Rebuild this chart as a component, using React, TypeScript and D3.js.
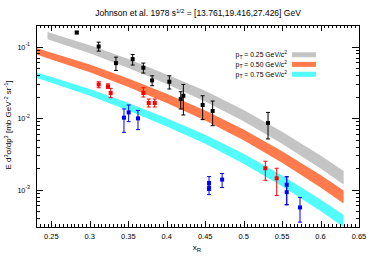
import React from "react";
import * as d3 from "d3";

// ---- data ----
const xTickLabels = ["0.25", "0.3", "0.35", "0.4", "0.45", "0.5", "0.55", "0.6", "0.65"];
const yDecades = [-1, -2, -3];

// bands (theory curves)
const grayX = [0.245, 0.30, 0.35, 0.40, 0.45, 0.50, 0.55, 0.60, 0.63];
const grayHi = [0.160, 0.1046, 0.0667, 0.0408, 0.0240, 0.01297, 0.00644, 0.00299, 0.00182];
const grayLo = [0.1267, 0.0805, 0.0500, 0.0299, 0.0171, 0.0090, 0.00436, 0.00197, 0.00118];

const orangeX = [0.23, 0.245, 0.30, 0.35, 0.40, 0.45, 0.50, 0.55, 0.60, 0.63];
const orangeHi = [0.0959, 0.0855, 0.0559, 0.0357, 0.0218, 0.0128, 0.00693, 0.00344, 0.00160, 0.000971];
const orangeLo = [0.0778, 0.0688, 0.0438, 0.0272, 0.0162, 0.00927, 0.00489, 0.00237, 0.00107, 0.00064];

const cyanX = [0.23, 0.245, 0.30, 0.35, 0.40, 0.45, 0.50, 0.55, 0.60, 0.63];
const cyanHi = [0.0437, 0.0389, 0.0255, 0.01625, 0.00994, 0.00583, 0.00316, 0.001568, 0.000728, 0.000443];
const cyanLo = [0.0366, 0.0324, 0.02056, 0.01279, 0.00762, 0.00436, 0.0023, 0.001112, 0.000503, 0.000301];

// data points: [x, y, yLow, yHigh]
const blackPts: number[][] = [
  [0.283, 0.157, 0.151, 0.163],
  [0.3115, 0.100, 0.0863, 0.1151],
  [0.334, 0.0586, 0.0463, 0.0711],
  [0.3557, 0.0667, 0.0551, 0.0773],
  [0.3696, 0.0505, 0.0426, 0.0587],
  [0.381, 0.0336, 0.0283, 0.039],
  [0.4034, 0.0322, 0.0255, 0.039],
  [0.4182, 0.01846, 0.0134, 0.0233],
  [0.4216, 0.0205, 0.01104, 0.0295],
  [0.4467, 0.01524, 0.00951, 0.0205],
  [0.4597, 0.01256, 0.00783, 0.0173],
  [0.5317, 0.00855, 0.00511, 0.0120],
];
const redPts: number[][] = [
  [0.3115, 0.0295, 0.02655, 0.0322],
  [0.3236, 0.0277, 0.0260, 0.0301],
  [0.3271, 0.0224, 0.01925, 0.0260],
  [0.3696, 0.0224, 0.0197, 0.02655],
  [0.3766, 0.01625, 0.01429, 0.01847],
  [0.3844, 0.01625, 0.01429, 0.01847],
  [0.5282, 0.00199, 0.00135, 0.00249],
  [0.5430, 0.00144, 0.000827, 0.00199],
];
const bluePts: number[][] = [
  [0.3444, 0.01013, 0.00632, 0.0134],
  [0.3505, 0.0120, 0.00891, 0.01523],
  [0.3626, 0.0099, 0.00689, 0.0128],
  [0.455, 0.00122, 0.00097, 0.00152],
  [0.455, 0.00105, 0.00085, 0.0013],
  [0.472, 0.00138, 0.00107, 0.001677],
  [0.556, 0.001167, 0.000614, 0.00151],
  [0.556, 0.00092, 0.000614, 0.00151],
  [0.5733, 0.000563, 0.000351, 0.000776],
];

const legendLabels = ["0.25", "0.50", "0.75"];

// ---- styles ----
const FONT = "'Liberation Sans', Arial, Helvetica, sans-serif";
const W = 374, H = 262;
const L = 36, R = 359, T = 25, B = 227;
const GRAY = "#c4c4c4", ORANGE = "#ff7a4c", CYAN = "#52fcfc";

export default function App() {
  const x = d3.scaleLinear().domain([0.23, 0.65]).range([L, R]);
  const y = d3.scaleLog().domain([3e-4, 0.2]).range([B, T]);

  const band = (xs: number[], lo: number[], hi: number[]) =>
    d3.area<number>()
      .x((_, i) => x(xs[i]))
      .y0((_, i) => y(lo[i]))
      .y1((_, i) => y(hi[i]))(xs) || "";

  const xTicks: { v: number; major: boolean }[] = [];
  for (let i = 46; i <= 130; i++) xTicks.push({ v: i * 0.005, major: i % 10 === 0 });
  const yTicks: { v: number; major: boolean }[] = [];
  for (let d = -4; d <= -1; d++) {
    for (let k = 1; k <= 9; k++) {
      const v = k * Math.pow(10, d);
      if (v >= 3e-4 && v <= 0.2) yTicks.push({ v, major: k === 1 });
    }
  }

  const points = (pts: number[][], color: string) =>
    pts.map((p, i) => {
      const cx = x(p[0]);
      const cy = y(p[1]);
      const y0 = y(p[2]);
      const y1 = y(p[3]);
      return (
        <g key={i} stroke={color} strokeWidth={1}>
          <line x1={cx} x2={cx} y1={y0} y2={y1} />
          <line x1={cx - 2} x2={cx + 2} y1={y0} y2={y0} />
          <line x1={cx - 2} x2={cx + 2} y1={y1} y2={y1} />
          <rect x={cx - 2} y={cy - 2} width={4} height={4} fill={color} stroke="none" />
        </g>
      );
    });

  const legendColors = [GRAY, ORANGE, CYAN];
  const legendY = [54.7, 64.4, 74.3];

  return (
    <svg width={W} height={H} style={{ position: "absolute", left: 0, top: 0, background: "#fff" }}
      fontFamily={FONT}>
      <rect x={0} y={0} width={W} height={H} fill="#fff" />
      <defs>
        <clipPath id="plot">
          <rect x={L} y={T} width={R - L} height={B - T} />
        </clipPath>
      </defs>
      <g clipPath="url(#plot)">
        <path d={band(grayX, grayLo, grayHi)} fill={GRAY} />
        <path d={band(orangeX, orangeLo, orangeHi)} fill={ORANGE} />
        <path d={band(cyanX, cyanLo, cyanHi)} fill={CYAN} />
        {points(blackPts, "#000")}
        {points(redPts, "#ff0000")}
        {points(bluePts, "#0000ff")}
      </g>

      {/* frame */}
      <rect x={L} y={T} width={R - L} height={B - T} fill="none" stroke="#000" strokeWidth={1} shapeRendering="crispEdges" />

      {/* x ticks */}
      <g stroke="#000" strokeWidth={1} shapeRendering="crispEdges">
        {xTicks.map((t, i) => {
          const px = Math.round(x(t.v)) + 0.5;
          const len = t.major ? 6 : 3;
          return (
            <g key={i}>
              <line x1={px} x2={px} y1={B} y2={B - len} />
              <line x1={px} x2={px} y1={T} y2={T + len} />
            </g>
          );
        })}
        {yTicks.map((t, i) => {
          const py = Math.round(y(t.v)) + 0.5;
          const len = t.major ? 7 : 3.5;
          return (
            <g key={i}>
              <line x1={L} x2={L + len} y1={py} y2={py} />
              <line x1={R} x2={R - len} y1={py} y2={py} />
            </g>
          );
        })}
      </g>

      {/* x tick labels */}
      {xTickLabels.map((s) => (
        <text key={s} x={x(+s)} y={239} fontSize={7.5} textAnchor="middle" fill="#000">{s}</text>
      ))}
      {/* y tick labels */}
      {yDecades.map((d) => (
        <text key={d} x={30} y={y(Math.pow(10, d)) + 3} fontSize={7.2} textAnchor="end" fill="#000">
          10<tspan fontSize={5.2} dy={-3.5}>{String(d)}</tspan>
        </text>
      ))}

      {/* title */}
      <text x={198} y={16} fontSize={8.5} textAnchor="middle" fill="#000">
        Johnson et al. 1978  s<tspan fontSize={6} dy={-3.5}>1/2</tspan><tspan dy={3.5}> = [13.761,19.416,27.426] GeV</tspan>
      </text>

      {/* axis titles */}
      <text x={197} y={250} fontSize={8} textAnchor="middle" fill="#000">
        x<tspan fontSize={6} dy={2}>R</tspan>
      </text>
      <text transform="translate(11,125) rotate(-90)" fontSize={8} textAnchor="middle" fill="#000">
        E d<tspan fontSize={5.6} dy={-3.2}>3</tspan><tspan dy={3.2}>σ/dp</tspan><tspan fontSize={5.6} dy={-3.2}>3</tspan><tspan dy={3.2}> [mb GeV</tspan><tspan fontSize={5.6} dy={-3.2}>-2</tspan><tspan dy={3.2}> sr</tspan><tspan fontSize={5.6} dy={-3.2}>-1</tspan><tspan dy={3.2}>]</tspan>
      </text>

      {/* legend */}
      {legendLabels.map((s, i) => (
        <g key={s}>
          <text x={287} y={legendY[i] + 2.5} fontSize={6.8} textAnchor="end" fill="#000">
            p<tspan fontSize={5} dy={1.5}>T</tspan><tspan dy={-1.5}> = {s} GeV/c</tspan><tspan fontSize={5} dy={-3}>2</tspan>
          </text>
          <rect x={292} y={legendY[i] - 2.5} width={24} height={5} fill={legendColors[i]} />
        </g>
      ))}
    </svg>
  );
}
